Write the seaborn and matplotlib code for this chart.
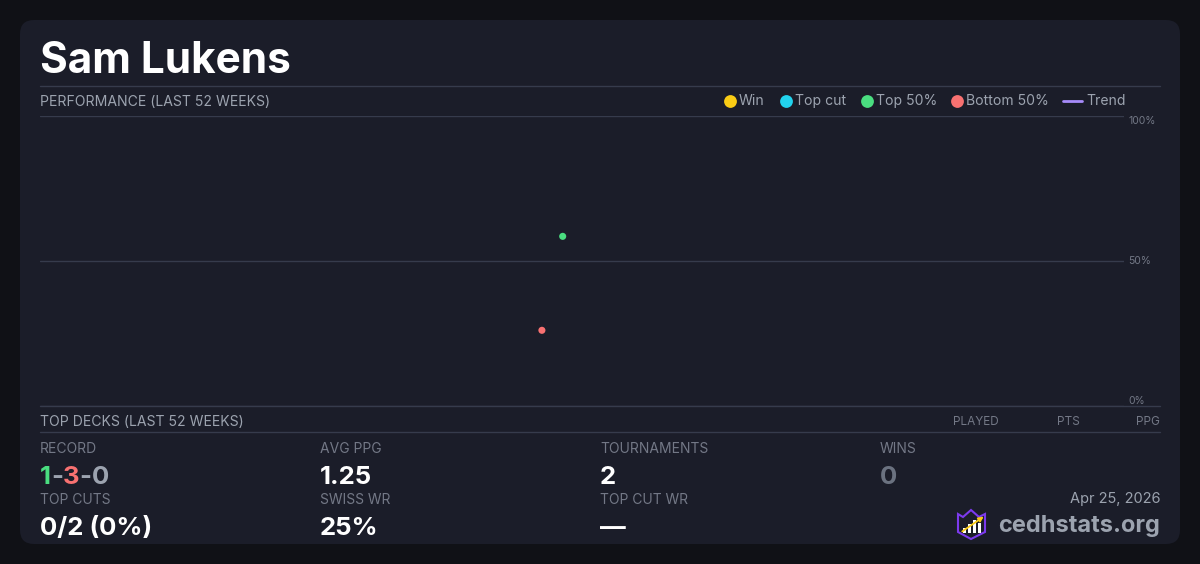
import pandas as pd
import matplotlib.pyplot as plt
import matplotlib.patches as mpatches
import seaborn as sns

# data
player = "Sam Lukens"
event_dates = ["2025-10-11", "2025-10-18"]
finish_pct = [26.1, 58.5]
finish_group = ["Bottom 50%", "Top 50%"]
window_start = "2025-04-25"
window_end = "2026-04-25"

legend_labels = ["Win", "Top cut", "Top 50%", "Bottom 50%", "Trend"]
group_colors = {
    "Win": "#facc15",
    "Top cut": "#22d3ee",
    "Top 50%": "#4ade80",
    "Bottom 50%": "#f87171",
    "Trend": "#a78bfa",
}
y_ticks = [0, 50, 100]
y_tick_labels = ["0%", "50%", "100%"]

deck_cols = ["PLAYED", "PTS", "PPG"]
stat_labels = ["RECORD", "AVG PPG", "TOURNAMENTS", "WINS",
               "TOP CUTS", "SWISS WR", "TOP CUT WR"]
stat_values = ["1-3-0", "1.25", "2", "0", "0/2 (0%)", "25%", "\u2014"]
report_date = "Apr 25, 2026"
site = "cedhstats.org"

OUTER = "#101116"
CARD = "#1b1d29"
LINE = "#363b4c"
MUTED = "#9ca3af"
DIM = "#737886"
WHITE = "#ffffff"

sns.set_theme(style="dark")
plt.rcParams["font.family"] = ["Inter", "DejaVu Sans"]

df = pd.DataFrame({"date": pd.to_datetime(event_dates),
                   "pct": finish_pct, "group": finish_group})

fig = plt.figure(figsize=(12, 5.64), dpi=100, facecolor=OUTER)

# background layer in pixel coordinates
bg = fig.add_axes([0, 0, 1, 1])
bg.set_xlim(0, 1200)
bg.set_ylim(564, 0)
bg.axis("off")
bg.add_patch(mpatches.FancyBboxPatch((20, 20), 1160, 524,
                                     boxstyle="round,pad=0,rounding_size=14",
                                     fc=CARD, ec="none"))

bg.text(40, 73, player, fontsize=30.5, fontweight="bold", color=WHITE, va="baseline")
bg.plot([40, 1160], [86, 86], color=LINE, lw=1)
bg.text(40, 106, "PERFORMANCE (LAST 52 WEEKS)", fontsize=10.1, color=MUTED, va="baseline")

# legend
leg_x = [729.5, 785.5, 866.5, 957, 1063]
for lab, x in zip(legend_labels, leg_x):
    if lab == "Trend":
        bg.plot([x, x + 19], [101, 101], color=group_colors[lab], lw=2)
        bg.text(x + 23, 101, lab, fontsize=10.1, color=MUTED, va="center")
    else:
        bg.scatter([x], [101], s=85, color=group_colors[lab], lw=0)
        bg.text(x + 9.5, 101, lab, fontsize=10.1, color=MUTED, va="center")

# performance chart
ax = fig.add_axes([40 / 1200, 1 - 406 / 564, 1084 / 1200, 290 / 564])
ax.set_facecolor("none")
sns.scatterplot(data=df, x="date", y="pct", hue="group", palette=group_colors,
                s=26, linewidth=0, legend=False, ax=ax)
ax.set_xlim(pd.Timestamp(window_start), pd.Timestamp(window_end))
ax.set_ylim(0, 100)
ax.set_yticks(y_ticks)
ax.set_yticklabels(y_tick_labels)
ax.yaxis.tick_right()
ax.tick_params(axis="y", length=0, pad=3, labelsize=7.5, labelcolor=DIM)
for lbl, va in zip(ax.get_yticklabels(), ["bottom", "center", "top"]):
    lbl.set_va(va)
ax.set_xticks([])
ax.set_xlabel("")
ax.set_ylabel("")
ax.grid(axis="y", color=LINE, lw=1)
for s in ax.spines.values():
    s.set_visible(False)

bg.plot([40, 1160], [406, 406], color=LINE, lw=1)

# top decks header
bg.text(40, 426, "TOP DECKS (LAST 52 WEEKS)", fontsize=10.1, color=MUTED, va="baseline")
for lab, xr in zip(deck_cols, [999, 1080, 1160]):
    bg.text(xr, 425, lab, fontsize=8.5, color=DIM, ha="right", va="baseline")
bg.plot([40, 1160], [432, 432], color=LINE, lw=1)

# stats grid
col_x = [40, 320, 600, 880, 40, 320, 600]
lab_y = [453, 453, 453, 453, 504, 504, 504]
val_y = [484, 484, 484, 484, 535, 535, 535]
for i, (lab, val) in enumerate(zip(stat_labels, stat_values)):
    bg.text(col_x[i], lab_y[i], lab, fontsize=10, color=DIM, va="baseline")
    if lab == "RECORD":
        continue
    color = "#6b7280" if lab == "WINS" else WHITE
    bg.text(col_x[i], val_y[i], val, fontsize=18.5, fontweight="bold",
            color=color, va="baseline")

# record with coloured parts
fig.canvas.draw()
rend = fig.canvas.get_renderer()
x = 40
inv = bg.transData.inverted()
for part, c in zip(["1", "-", "3", "-", "0"],
                   ["#4ade80", MUTED, "#f87171", MUTED, MUTED]):
    t = bg.text(x, 484, part, fontsize=18.5, fontweight="bold", color=c, va="baseline")
    bb = t.get_window_extent(rend)
    x = inv.transform((bb.x1, bb.y0))[0]

# footer
bg.text(1160, 503, report_date, fontsize=10.5, color=MUTED, ha="right", va="baseline")
bg.text(1160, 532, site, fontsize=17, fontweight="bold", color=MUTED, ha="right", va="baseline")

# small logo
shield = mpatches.Polygon([(958, 514), (963, 517), (971, 510), (979, 517), (985, 514),
                           (985, 532), (971, 539), (958, 532)],
                          closed=True, fc="none", ec="#7c3aed", lw=1.5)
bg.add_patch(shield)
for bx, bh in zip([963, 968, 973, 978], [5, 9, 13, 10]):
    bg.add_patch(mpatches.Rectangle((bx, 533 - bh), 3, bh, fc=WHITE, ec="none"))
bg.annotate("", xy=(986, 515), xytext=(960, 533),
            arrowprops=dict(arrowstyle="-|>", color="#facc15", lw=1.3, mutation_scale=7))

fig.savefig("out.png", dpi=100, facecolor=OUTER)
